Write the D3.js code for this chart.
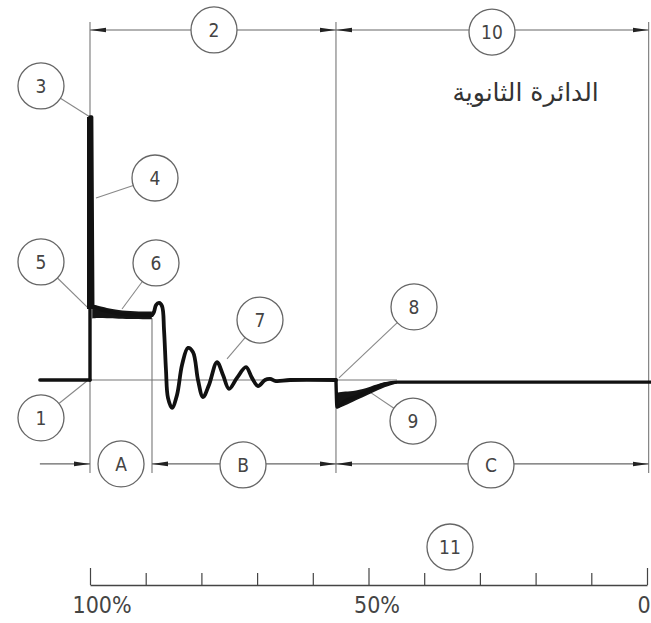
<!DOCTYPE html>
<html><head><meta charset="utf-8">
<script src="https://cdn.jsdelivr.net/npm/d3@7"></script>
<style>html,body{margin:0;padding:0;background:#fff;} svg{display:block;}</style>
</head><body>
<svg id="c" width="651" height="623"></svg>
<script>
// ---------- data (x in % of load, 100 -> 0 ; y in relative units, baseline = 0) ----------
const leftBaseline = [[109.0, 0], [100, 0]];
const spikeTrace = [[100, 0], [100, 100], [99.7, 100], [99.5, 28.1], [98.74, 27.4], [97.85, 26.6],
  [96.41, 25.9], [94.61, 25.1], [91.92, 24.7], [88.87, 24.7]];
const spikeBar = [[100, 27], [100, 100]];
const oscillation = [[88.87, 24.7], [88.51, 25.9], [88.15, 28.5], [87.61, 29.3], [87.07, 28.1],
  [86.71, 19.0], [86.36, 3.8], [86.0, -6.8], [85.28, -10.6], [84.38, -5.7], [83.48, 5.7],
  [82.41, 12.2], [81.51, 10.6], [80.61, 0], [79.71, -6.5], [78.64, -1.9], [77.2, 6.8],
  [76.12, 1.9], [75.04, -3.4], [73.61, 0.8], [71.99, 4.9], [70.92, 0.8], [69.84, -2.3],
  [68.58, 0], [67.68, 0.4], [66.61, -0.4], [64.09, 0], [55.84, 0]];
const dipTrace = [[55.84, 0], [55.66, -10.3], [54.22, -8.0], [52.42, -6.5], [49.73, -3.8],
  [47.04, -1.5], [44.88, -0.8], [-1.0, -0.8]];
const plateauBand = [[99.6, 28.8, 23.4], [98.7, 28.3, 23.6], [97.0, 27.4, 23.5], [95.0, 26.6, 23.3],
  [92.0, 26.1, 23.2], [88.9, 26.0, 23.1]];
const dipBand = [[55.7, -4.8, -10.8], [54.2, -4.3, -9.8], [52.4, -4.2, -7.8], [49.7, -2.6, -5.2],
  [47.0, -0.6, -2.5], [44.9, -0.4, -1.3]];
const referenceLine = [[100, 0], [44.88, 0]];

const extLines = [[100, 136.1, -35.4], [88.87, 23.5, -35.4], [55.84, 136.1, -35.4], [-0.3, 136.1, -35.4]];
const rowTop = 133.1, rowBottom = -31.9;

const dimCircles = [["2", 77.74, rowTop], ["10", 27.83, 132.3], ["A", 94.43, rowBottom],
  ["B", 72.53, -32.3], ["C", 28.01, -32.3], ["11", 35.37, -63.5]];
// [fromPct, toPct, rowValue, startsAtCircle]
const dimSegments = [[77.74, 100, rowTop, true], [77.74, 55.84, rowTop, true],
  [27.83, 55.84, rowTop, true], [27.83, -0.3, rowTop, true],
  [109.0, 100, rowBottom, false], [72.53, 88.87, rowBottom, true], [72.53, 55.84, rowBottom, true],
  [28.01, 55.84, rowBottom, true], [28.01, -0.3, rowBottom, true]];

const callouts = [["3", [108.8, 111.8], [100, 100]], ["4", [88.33, 76.8], [98.92, 69.2]],
  ["5", [108.8, 44.9], [100.36, 27.4]], ["6", [88.15, 44.5], [94.25, 27.0]],
  ["1", [108.8, -14.4], [100.54, -0.4]], ["7", [69.48, 22.8], [75.4, 8.0]],
  ["8", [41.83, 27.8], [55.3, 0.8]], ["9", [42.01, -15.6], [49.73, -4.6]]];

const axisTicks = [100, 90, 80, 70, 60, 50, 40, 30, 20, 10, 0];
const axisLabels = {100: "100%", 50: "50%", 0: "0"};
const titleText = "الدائرة الثانوية";
const titlePos = [21.8, 106.0];

// ---------- drawing ----------
const svg = d3.select("#c");
const x = d3.scaleLinear().domain([100, 0]).range([90, 647]);
const y = d3.scaleLinear().domain([0, 100]).range([380, 117]);
const R = 23;
const font = "'DejaVu Sans Condensed','DejaVu Sans',sans-serif";

const defs = svg.append("defs");
defs.append("marker").attr("id", "arr").attr("viewBox", "0 -3 16 6").attr("refX", 16).attr("refY", 0)
  .attr("markerWidth", 16).attr("markerHeight", 6).attr("markerUnits", "userSpaceOnUse")
  .attr("orient", "auto")
  .append("path").attr("d", "M0,-2.3L16,0L0,2.3Z").attr("fill", "#222");

// extension lines
svg.selectAll("line.ext").data(extLines).join("line").attr("class", "ext")
  .attr("x1", d => x(d[0])).attr("x2", d => x(d[0]))
  .attr("y1", d => y(d[1])).attr("y2", d => y(d[2]))
  .attr("stroke", "#777").attr("stroke-width", 1.1);

// reference baseline
const line = d3.line().x(d => x(d[0])).y(d => y(d[1]));
svg.append("path").attr("d", line(referenceLine)).attr("fill", "none")
  .attr("stroke", "#777").attr("stroke-width", 1.1);

// dimension segments
svg.selectAll("line.dim").data(dimSegments).join("line").attr("class", "dim")
  .each(function(d) {
    const x0 = x(d[0]), x1 = x(d[1]);
    const dir = Math.sign(x1 - x0);
    d3.select(this).attr("x1", d[3] ? x0 + dir * R : x0).attr("x2", x1)
      .attr("y1", y(d[2])).attr("y2", y(d[2]));
  })
  .attr("stroke", "#666").attr("stroke-width", 1.1).attr("marker-end", "url(#arr)");

// callout leaders
svg.selectAll("line.lead").data(callouts).join("line").attr("class", "lead")
  .each(function(d) {
    const cx = x(d[1][0]), cy = y(d[1][1]), tx = x(d[2][0]), ty = y(d[2][1]);
    const L = Math.hypot(tx - cx, ty - cy);
    d3.select(this).attr("x1", cx + (tx - cx) / L * R).attr("y1", cy + (ty - cy) / L * R)
      .attr("x2", tx).attr("y2", ty);
  })
  .attr("stroke", "#888").attr("stroke-width", 1.1);

// bands (noisy trace)
const band = d3.area().x(d => x(d[0])).y0(d => y(d[2])).y1(d => y(d[1])).curve(d3.curveBasis);
svg.append("path").attr("d", band(plateauBand)).attr("fill", "#151515");
svg.append("path").attr("d", band(dipBand)).attr("fill", "#151515");

// traces
const trace = svg.append("g").attr("fill", "none").attr("stroke", "#111")
  .attr("stroke-linejoin", "round").attr("stroke-linecap", "round");
trace.append("path").attr("d", line(leftBaseline)).attr("stroke-width", 3.4);
trace.append("path").attr("d", line(spikeTrace)).attr("stroke-width", 3.4);
trace.append("path").attr("d", line(spikeBar)).attr("stroke-width", 6).attr("stroke-linecap", "butt");
trace.append("path").attr("d", d3.line().x(d => x(d[0])).y(d => y(d[1])).curve(d3.curveCatmullRom.alpha(0.5))(oscillation))
  .attr("stroke-width", 3.8);
trace.append("path").attr("d", d3.line().x(d => x(d[0])).y(d => y(d[1])).curve(d3.curveMonotoneX)(dipTrace))
  .attr("stroke-width", 3.4);

// circles
const allCircles = dimCircles.map(d => [d[0], d[1], d[2]]).concat(callouts.map(d => [d[0], d[1][0], d[1][1]]));
const cg = svg.selectAll("g.circ").data(allCircles).join("g").attr("class", "circ")
  .attr("transform", d => `translate(${x(d[1])},${y(d[2])})`);
cg.append("circle").attr("r", R).attr("fill", "#fff").attr("stroke", "#666").attr("stroke-width", 1.3);
cg.append("text").text(d => d[0]).attr("text-anchor", "middle").attr("dy", "0.36em")
  .attr("font-family", font).attr("font-size", 19).attr("fill", "#444");

// arabic title
svg.append("text").text(titleText).attr("x", x(titlePos[0])).attr("y", y(titlePos[1]))
  .attr("text-anchor", "middle").attr("direction", "rtl")
  .attr("font-family", "'DejaVu Sans',sans-serif").attr("font-size", 25).attr("fill", "#333");

// axis
const axisG = svg.append("g").attr("transform", "translate(0,585)")
  .call(d3.axisBottom(x).tickValues(axisTicks).tickSize(-12).tickSizeOuter(0).tickPadding(12)
    .tickFormat(d => axisLabels[d] || ""));
axisG.select(".domain").attr("stroke", "#444").attr("stroke-width", 1.4);
axisG.selectAll(".tick line").attr("stroke", "#444").attr("stroke-width", 1.2)
  .attr("y2", d => (d % 50 === 0 ? -17 : -12));
const labelShift = {100: -18, 50: -15, 0: -10};
axisG.selectAll(".tick text").attr("text-anchor", "start").attr("x", d => labelShift[d] || 0)
  .attr("font-family", font).attr("font-size", 23).attr("fill", "#444");
</script>
</body></html>
